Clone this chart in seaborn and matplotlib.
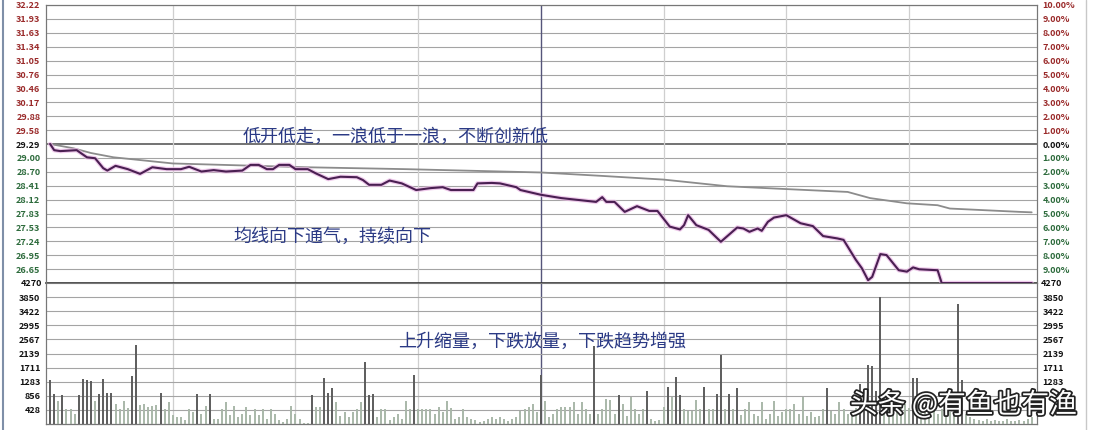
import matplotlib
matplotlib.use("Agg")
import matplotlib.pyplot as plt
import matplotlib.patheffects as pe
from matplotlib.lines import Line2D
import seaborn as sns
import pandas as pd

sns.set_theme(style="white")
plt.rcParams['font.family'] = ['Noto Sans CJK SC', 'DejaVu Sans']

# ---- data ----
prev_close = 29.29
price_step = 0.2929

left_price_labels = ['26.65', '26.95', '27.24', '27.53', '27.83', '28.12', '28.41', '28.70', '29.00',
                     '29.29', '29.58', '29.88', '30.17', '30.46', '30.76', '31.05', '31.34', '31.63',
                     '31.93', '32.22']
right_pct_labels = ['9.00%', '8.00%', '7.00%', '6.00%', '5.00%', '4.00%', '3.00%', '2.00%', '1.00%',
                    '0.00%', '1.00%', '2.00%', '3.00%', '4.00%', '5.00%', '6.00%', '7.00%', '8.00%',
                    '9.00%', '10.00%']
vol_labels = ['428', '856', '1283', '1711', '2139', '2567', '2995', '3422', '3850', '4270']
vol_step = 427.8

price_minutes = [0, 1, 2.5, 6.5, 9, 11, 13, 14, 16, 19, 22, 25, 28.5, 32, 34, 37, 40, 43, 47, 49,
                 51, 53, 54.5, 56, 58.5, 60, 63, 65, 68, 71, 75, 76.5, 78, 81, 83, 86, 89.5, 93, 96, 98,
                 103.5, 104.5, 108, 110, 114, 115, 120, 125, 133.5, 135, 136, 138, 140.5, 143.5, 146.5,
                 148.5, 151.5, 154, 155, 156, 158, 161, 164, 168, 169.5, 171, 173, 174, 175.5, 177, 180,
                 183.5, 186.5, 189, 192.5, 194, 197, 198.5, 200, 201, 203, 204.5, 207.5, 209.5, 211,
                 212.5, 217, 218, 240]
price = [29.29, 29.16, 29.14, 29.16, 29.01, 28.99, 28.78, 28.73, 28.83, 28.76, 28.66, 28.80, 28.76,
         28.76, 28.81, 28.71, 28.74, 28.71, 28.73, 28.85, 28.85, 28.76, 28.76, 28.85, 28.85, 28.76,
         28.76, 28.67, 28.55, 28.60, 28.59, 28.53, 28.43, 28.43, 28.52, 28.46, 28.32, 28.36, 28.38,
         28.32, 28.32, 28.46, 28.47, 28.46, 28.38, 28.32, 28.22, 28.15, 28.07, 28.17, 28.07, 28.07,
         27.86, 27.98, 27.88, 27.88, 27.55, 27.49, 27.58, 27.79, 27.58, 27.48, 27.23, 27.53, 27.51,
         27.44, 27.51, 27.46, 27.65, 27.74, 27.79, 27.62, 27.56, 27.35, 27.30, 27.27, 26.85, 26.67,
         26.42, 26.49, 26.97, 26.95, 26.63, 26.60, 26.69, 26.65, 26.63, 26.36, 26.36]

avg_minutes = [0, 5.7, 10, 15.5, 30, 62.7, 87, 120, 134.5, 150, 165.5, 180, 195, 200.5, 209.5, 217,
               220, 237, 240]
avg_price = [29.29, 29.20, 29.10, 29.01, 28.88, 28.80, 28.76, 28.69, 28.62, 28.54, 28.40, 28.34,
             28.28, 28.15, 28.04, 28.00, 27.93, 27.86, 27.85]

volume = [1330, 900, 700, 870, 450, 450, 300, 870, 1360, 1330,
          1300, 700, 900, 1360, 950, 950, 600, 450, 700, 480,
          1450, 2390, 570, 600, 520, 560, 580, 940, 450, 660,
          270, 200, 210, 120, 450, 350, 900, 300, 540, 900,
          150, 150, 450, 660, 270, 540, 200, 300, 510, 270,
          450, 270, 450, 150, 450, 300, 120, 60, 150, 540,
          300, 150, 30, 30, 870, 510, 510, 1390, 940, 1090,
          660, 250, 350, 200, 350, 450, 660, 1880, 870, 920,
          220, 450, 450, 120, 200, 300, 150, 700, 450, 1490,
          450, 450, 450, 450, 300, 510, 350, 700, 480, 150,
          200, 450, 200, 150, 120, 60, 100, 150, 200, 150,
          200, 150, 100, 150, 200, 400, 450, 510, 600, 350,
          1490, 700, 200, 300, 450, 510, 510, 510, 660, 300,
          660, 450, 300, 2380, 300, 450, 750, 720, 300, 870,
          600, 250, 810, 450, 300, 450, 1000, 150, 100, 120,
          510, 1120, 810, 1420, 870, 450, 400, 400, 730, 450,
          1120, 450, 450, 920, 2080, 450, 920, 450, 1090, 270,
          450, 660, 300, 250, 660, 150, 300, 700, 250, 350,
          450, 450, 600, 300, 810, 250, 350, 200, 250, 450,
          1090, 400, 300, 660, 450, 300, 300, 500, 1220, 900,
          1790, 1770, 1000, 3840, 600, 500, 550, 450, 500, 600,
          500, 1390, 1390, 400, 450, 350, 400, 300, 450, 400,
          350, 300, 3650, 1330, 300, 200, 150, 120, 100, 150,
          100, 120, 80, 100, 150, 100, 80, 120, 100, 150, 200]

notes = ['低开低走，一浪低于一浪，不断创新低', '均线向下通气，持续向下', '上升缩量，下跌放量，下跌趋势增强']

df_price = pd.DataFrame({'minute': price_minutes, 'price': price})
df_avg = pd.DataFrame({'minute': avg_minutes, 'price': avg_price})

RED = '#9a2a2a'
GREEN = '#2d6b3c'
GRID = '#a4a4a4'
TXT = '#2b3a85'

fig = plt.figure(figsize=(10.94, 4.30), dpi=100)
W, H = 1094, 430
xl, xr = 46, 1037
ax = fig.add_axes([xl / W, 1 - 283 / H, (xr - xl) / W, 278 / H])
axv = fig.add_axes([xl / W, 1 - 424 / H, (xr - xl) / W, 141 / H])

lo = prev_close - 10 * price_step
hi = prev_close + 10 * price_step
xmin, xmax = -1, 241.3

# price panel
levels = [prev_close + (k - 9) * price_step for k in range(20)]
for k, lv in enumerate(levels):
    if k == 9:
        ax.axhline(lv, color='#5a5a5a', lw=1.2, zorder=1)
    else:
        ax.axhline(lv, color=GRID, lw=0.8, zorder=1)
for m in [30, 60, 90, 150, 180, 210]:
    ax.axvline(m, color='#cfcfcf', lw=0.9, zorder=1)
    axv.axvline(m, color='#cfcfcf', lw=0.9, zorder=1)
ax.axvline(120, color='#55557a', lw=1.0, zorder=1)
axv.axvline(120, color='#55557a', lw=1.0, zorder=1)

sns.lineplot(data=df_avg, x='minute', y='price', ax=ax, color='#8c8c8c', lw=1.3, zorder=3)
sns.lineplot(data=df_price, x='minute', y='price', ax=ax, color='#e9b6e4', lw=3.2, alpha=0.7, zorder=3)
sns.lineplot(data=df_price, x='minute', y='price', ax=ax, color='#4a1f52', lw=1.5, zorder=4)

ax.set_xlim(xmin, xmax)
ax.set_ylim(lo, hi)
ax.set_xticks([])
ax.set_xlabel('')
ax.set_ylabel('')
ax.set_yticks(levels)
ax.set_yticklabels(left_price_labels)
for k, t in enumerate(ax.get_yticklabels()):
    t.set_color(GREEN if k < 9 else ('#111111' if k == 9 else RED))
    t.set_fontweight('bold')
ax.tick_params(axis='y', length=0, pad=4, labelsize=6.5)

axr = ax.twinx()
axr.set_ylim(lo, hi)
axr.set_yticks(levels)
axr.set_yticklabels(right_pct_labels)
for k, t in enumerate(axr.get_yticklabels()):
    t.set_color(GREEN if k < 9 else ('#111111' if k == 9 else RED))
    t.set_fontweight('bold')
axr.tick_params(axis='y', length=0, pad=4, labelsize=6.5)
axr.grid(False)

for a in (ax, axr):
    for s in a.spines.values():
        s.set_color('#777777')
        s.set_linewidth(0.8)
ax.spines['bottom'].set_color('#333333')
ax.spines['bottom'].set_linewidth(1.2)

fig.text(243 / W, 1 - 137 / H, notes[0], fontsize=13, color=TXT, va='center', ha='left')
fig.text(233 / W, 1 - 237 / H, notes[1], fontsize=13, color=TXT, va='center', ha='left')

# volume panel
vol_levels = [vol_step * (k + 1) for k in range(10)]
for lv in vol_levels[:-1]:
    axv.axhline(lv, color=GRID, lw=0.8, zorder=1)
minutes = list(range(len(volume)))
colors = ['#5c5c5c' if v >= 850 else '#a9b8a9' for v in volume]
axv.vlines(minutes, 0, volume, colors=colors, lw=1.4, zorder=3)
axv.set_xlim(xmin, xmax)
axv.set_ylim(0, vol_levels[-1])
axv.set_xticks([])
axv.set_yticks(vol_levels[:-1])
axv.set_yticklabels(vol_labels[:-1])
axv.tick_params(axis='y', length=0, pad=4, labelsize=6.5, labelcolor='#111111')
for t in axv.get_yticklabels():
    t.set_fontweight('bold')

# on the right, the two lowest labels are hidden under the watermark
axvr = axv.twinx()
axvr.set_ylim(0, vol_levels[-1])
axvr.set_yticks(vol_levels[2:-1])
axvr.set_yticklabels(vol_labels[2:-1])
axvr.tick_params(axis='y', length=0, pad=4, labelsize=6.5, labelcolor='#111111')
for t in axvr.get_yticklabels():
    t.set_fontweight('bold')
for a in (axv, axvr):
    for s in a.spines.values():
        s.set_color('#777777')
        s.set_linewidth(0.8)
axv.spines['bottom'].set_color('#333333')
axv.spines['top'].set_visible(False)
axvr.spines['top'].set_visible(False)

# the "4270" label sits on the boundary line between the panels
fig.text((xl - 4) / W, 1 - 283 / H, vol_labels[-1], ha='right', va='center', fontsize=6.5,
         fontweight='bold', color='#111111')
fig.text((xr + 4) / W, 1 - 283 / H, vol_labels[-1], ha='left', va='center', fontsize=6.5,
         fontweight='bold', color='#111111')

fig.text(398 / W, 1 - 342 / H, notes[2], fontsize=13, color=TXT, va='center', ha='left')

# outer frame of the screenshot
fig.add_artist(Line2D([3 / W, 3 / W], [0, 1], color='#7f8fa8', lw=1.5))
fig.add_artist(Line2D([1086 / W, 1086 / W], [0, 1], color='#c8c8c8', lw=1.0))

# watermark
fig.text(850 / W, 1 - 405 / H, '头条 @有鱼也有渔', fontsize=20, color='white', va='center', ha='left',
         path_effects=[pe.withStroke(linewidth=2.5, foreground='#222222')])

fig.savefig('out.png', dpi=100)
